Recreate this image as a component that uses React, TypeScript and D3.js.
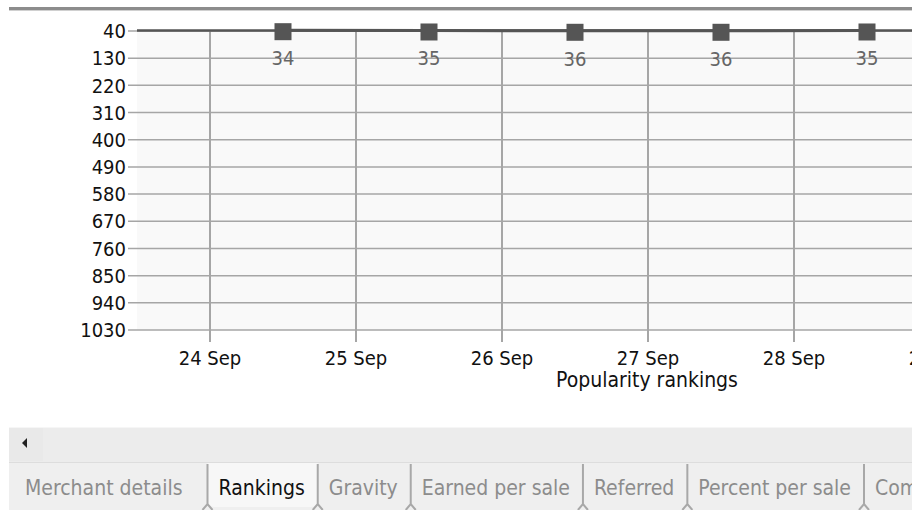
import React, { useEffect, useRef } from "react";
import * as d3 from "d3";

// ranking per day (plotted at midday)
const days = ["2013-09-24", "2013-09-25", "2013-09-26", "2013-09-27", "2013-09-28"];
const ranks = [34, 35, 36, 36, 35];
const yTicks = [40, 130, 220, 310, 400, 490, 580, 670, 760, 850, 940, 1030];
const xTickDays = ["2013-09-24", "2013-09-25", "2013-09-26", "2013-09-27", "2013-09-28", "2013-09-29"];
const tabs = ["Merchant details", "Rankings", "Gravity", "Earned per sale", "Referred", "Percent per sale", "Commission"];
const selectedTab = "Rankings";
const axisTitle = "Popularity rankings";

const W = 912;
const H = 510;
const FONT = "'DejaVu Sans Condensed', 'DejaVu Sans', sans-serif";

export default function App() {
  const svgRef = useRef<SVGSVGElement>(null);

  useEffect(() => {
    document.body.style.margin = "0";
    const svg = d3.select(svgRef.current);
    svg.selectAll("*").remove();

    const parse = d3.timeParse("%Y-%m-%d");
    const noon = (s: string) => d3.timeHour.offset(parse(s)!, 12);

    const plot = { left: 137, top: 31, bottom: 330, right: W };
    const x = d3
      .scaleTime()
      .domain([d3.timeHour.offset(parse("2013-09-24")!, -12), d3.timeHour.offset(parse("2013-09-30")!, -12)])
      .range([plot.left, plot.left + 6 * 146]);
    const y = d3.scaleLinear().domain([40, 1030]).range([plot.top, plot.bottom]);

    // window top border
    svg.append("rect").attr("x", 9).attr("y", 7).attr("width", W).attr("height", 3).attr("fill", "#8c8c8c");
    svg.append("rect").attr("x", 9).attr("y", 10).attr("width", W).attr("height", 1).attr("fill", "#d0d0d0");

    // plot background
    svg
      .append("rect")
      .attr("x", plot.left)
      .attr("y", plot.top)
      .attr("width", plot.right - plot.left)
      .attr("height", plot.bottom - plot.top)
      .attr("fill", "#f9f9f9");

    // horizontal grid + tick marks
    const yAxis = svg.append("g").attr("transform", `translate(${plot.left},0)`);
    yAxis
      .selectAll("line")
      .data(yTicks)
      .join("line")
      .attr("x1", -9)
      .attr("x2", plot.right - plot.left)
      .attr("y1", (d) => y(d))
      .attr("y2", (d) => y(d))
      .attr("stroke", "#a6a6a6")
      .attr("stroke-width", 1.5);
    yAxis
      .selectAll("text")
      .data(yTicks)
      .join("text")
      .attr("x", -11)
      .attr("y", (d) => y(d))
      .attr("dy", "0.36em")
      .attr("text-anchor", "end")
      .attr("font-family", FONT)
      .attr("font-size", 20)
      .attr("fill", "#111")
      .text((d) => d);

    // vertical grid + x labels
    const xAxis = svg.append("g");
    xAxis
      .selectAll("line")
      .data(xTickDays)
      .join("line")
      .attr("x1", (d) => x(parse(d)!))
      .attr("x2", (d) => x(parse(d)!))
      .attr("y1", plot.top)
      .attr("y2", plot.bottom + 12)
      .attr("stroke", "#a6a6a6")
      .attr("stroke-width", 2);
    xAxis
      .selectAll("text")
      .data(xTickDays)
      .join("text")
      .attr("x", (d) => x(parse(d)!))
      .attr("y", 365)
      .attr("text-anchor", "middle")
      .attr("font-family", FONT)
      .attr("font-size", 20)
      .attr("fill", "#111")
      .text((d) => d3.timeFormat("%-d %b")(parse(d)!));

    svg
      .append("text")
      .attr("x", 647)
      .attr("y", 387)
      .attr("text-anchor", "middle")
      .attr("font-family", FONT)
      .attr("font-size", 21)
      .attr("fill", "#111")
      .text(axisTitle);

    // plot top edge
    svg
      .append("line")
      .attr("x1", plot.left)
      .attr("x2", plot.right)
      .attr("y1", y(40) - 0.5)
      .attr("y2", y(40) - 0.5)
      .attr("stroke", "#555")
      .attr("stroke-width", 2.5);

    // series
    const pts = days.map((d, i) => ({ t: noon(d), v: ranks[i] }));
    const ln = d3
      .line<{ t: Date; v: number }>()
      .x((d) => x(d.t))
      .y((d) => y(d.v) + 1);
    svg.append("path").datum(pts).attr("d", ln).attr("fill", "none").attr("stroke", "#555").attr("stroke-width", 3);
    const sq = 17;
    svg
      .append("g")
      .selectAll("rect")
      .data(pts)
      .join("rect")
      .attr("x", (d) => x(d.t) - sq / 2)
      .attr("y", (d) => y(d.v) - sq / 2 + 2.5)
      .attr("width", sq)
      .attr("height", sq)
      .attr("fill", "#555");
    svg
      .append("g")
      .selectAll("text")
      .data(pts)
      .join("text")
      .attr("x", (d) => x(d.t))
      .attr("y", (d) => y(d.v) + 36)
      .attr("text-anchor", "middle")
      .attr("font-family", FONT)
      .attr("font-size", 20)
      .attr("fill", "#666")
      .text((d) => d.v);

    // scrollbar strip
    svg.append("rect").attr("x", 9).attr("y", 427).attr("width", W).attr("height", 35).attr("fill", "#ececec");
    svg.append("rect").attr("x", 9).attr("y", 427).attr("width", W).attr("height", 1).attr("fill", "#f6f6f6");
    svg.append("rect").attr("x", 9).attr("y", 428).attr("width", 34).attr("height", 33).attr("fill", "#e9e9e9");
    svg.append("path").attr("d", "M22,443 L27,438 L27,448 Z").attr("fill", "#222");

    // tab strip
    const tabG = svg.append("g");
    tabG.append("rect").attr("x", 9).attr("y", 462).attr("width", W).attr("height", H - 462).attr("fill", "#efefef");
    tabG.append("rect").attr("x", 9).attr("y", 462).attr("width", W).attr("height", 1).attr("fill", "#dddddd");

    let cx = 25;
    const seps: number[] = [];
    tabs.forEach((t, i) => {
      const sel = t === selectedTab;
      if (i > 0) cx += 11;
      const txt = tabG
        .append("text")
        .attr("x", cx)
        .attr("y", 495)
        .attr("font-family", FONT)
        .attr("font-size", 21)
        .attr("fill", sel ? "#111" : "#8c8c8c")
        .text(t);
      const w = (txt.node() as SVGTextElement).getComputedTextLength();
      cx += w + (i === 0 ? 25 : 13);
      seps.push(cx);
    });
    const selIdx = tabs.indexOf(selectedTab);
    const sx0 = seps[selIdx - 1];
    const sx1 = seps[selIdx];
    tabG
      .insert("path", "text")
      .attr("d", `M${sx0},463 L${sx1},463 L${sx1},500 Q${sx1},507 ${sx1 - 7},507 L${sx0 + 7},507 Q${sx0},507 ${sx0},500 Z`)
      .attr("fill", "#f7f7f7");
    tabG
      .selectAll("path.sep")
      .data(seps)
      .join("path")
      .attr("class", "sep")
      .attr("d", (d) => `M${d},464 L${d},504 M${d - 5},510 L${d},504 L${d + 5},510`)
      .attr("fill", "none")
      .attr("stroke", "#a8a8a8")
      .attr("stroke-width", 2);
  }, []);

  return <svg ref={svgRef} width={W} height={H} style={{ display: "block", background: "#fff" }} />;
}
